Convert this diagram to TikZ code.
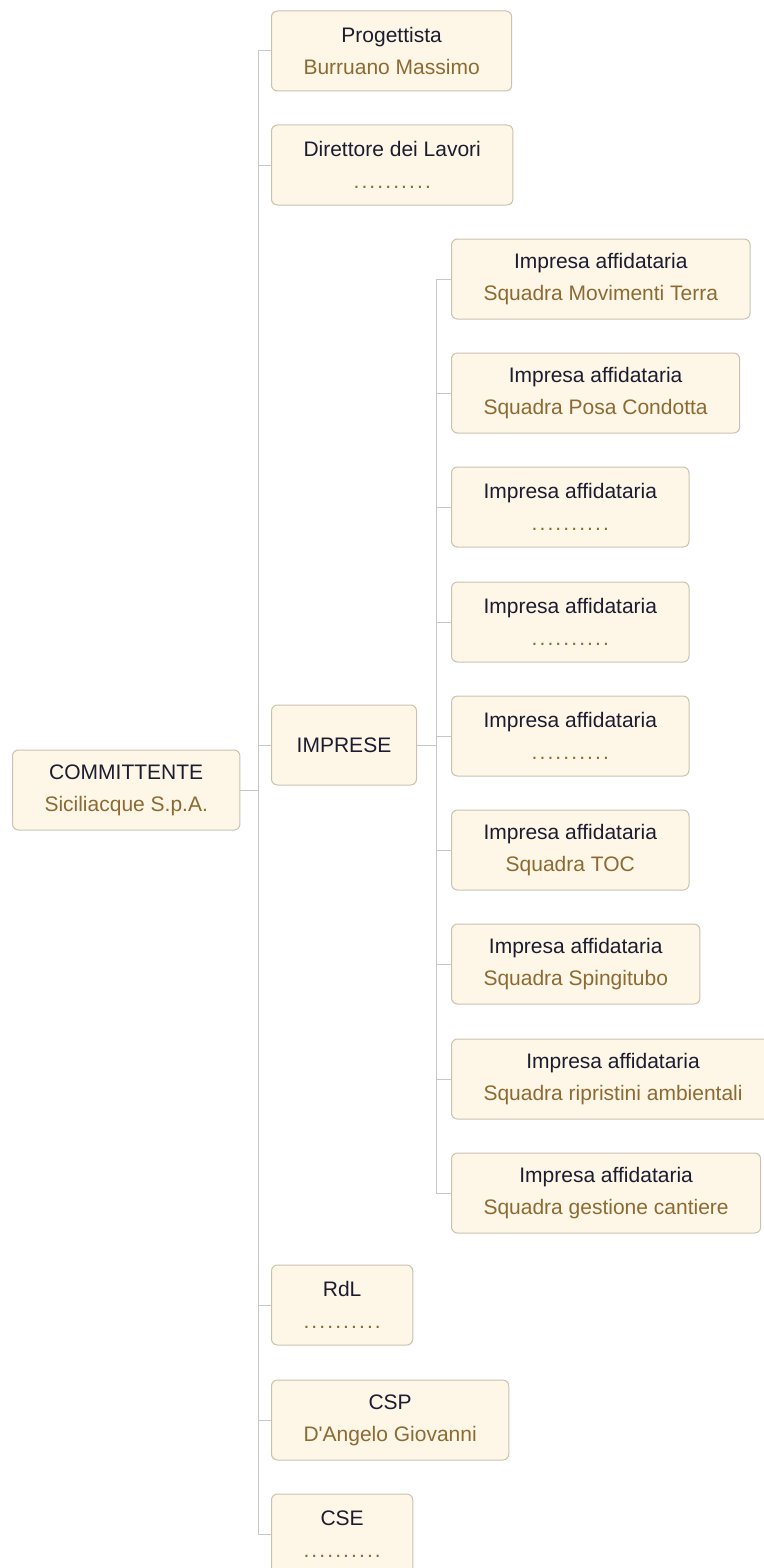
\documentclass[tikz,border=0pt]{standalone}
\usepackage{fontspec}
\setmainfont{Liberation Sans}
\usepackage{xcolor}
\usepackage{tikz}
\usetikzlibrary{positioning}

\definecolor{boxfill}{HTML}{FEF7E7}
\definecolor{boxline}{HTML}{C9C2B4}
\definecolor{titlecol}{HTML}{1C1C30}
\definecolor{subcol}{HTML}{8C6A32}
\definecolor{wirecol}{HTML}{C6C6C6}

\newcommand{\voce}[2]{\textcolor{titlecol}{#1}\\\textcolor{subcol}{#2}}
\newcommand{\pt}{.\kern1.05pt}
\newcommand{\puntini}{\pt\pt\pt\pt\pt\pt\pt\pt\pt.}

\begin{document}
\begin{tikzpicture}[x=0.5pt, y=-0.5pt,
        orgbox/.style={draw=boxline, fill=boxfill, rounded corners=3pt, line width=0.5pt,
            anchor=west, align=center, font=\fontsize{10.5}{16}\selectfont,
            inner xsep=16pt, minimum width=70pt, minimum height=40pt},
        wire/.style={draw=wirecol, line width=0.5pt}]
        \useasboundingbox (0,0) rectangle (764,1568);

        % radice
        \begin{scope}
            \node[orgbox] (comm) at (12,790) {\voce{COMMITTENTE}{Siciliacque S.p.A.}};
            \coordinate (trunk) at (258,790);
        \end{scope}

        % primo livello
        \begin{scope}
            \node[orgbox] (prog) at (271,51) {\voce{Progettista}{Burruano Massimo}};
            \node[orgbox] (dl) at (271,165) {\voce{Direttore dei Lavori}{\puntini}};
            \node[orgbox, inner xsep=0pt, minimum width=72.5pt] (imprese) at (271,745) {\textcolor{titlecol}{IMPRESE}};
            \node[orgbox] (rdl) at (271,1305) {\voce{RdL}{\puntini}};
            \node[orgbox] (csp) at (271,1420) {\voce{CSP}{D\textquotesingle Angelo Giovanni}};
            \node[orgbox] (cse) at (271,1534) {\voce{CSE}{\puntini}};
        \end{scope}

        % imprese affidatarie
        \begin{scope}
            \node[orgbox] (imp1) at (451,279) {\voce{Impresa affidataria}{Squadra Movimenti Terra}};
            \node[orgbox] (imp2) at (451,393) {\voce{Impresa affidataria}{Squadra Posa Condotta}};
            \node[orgbox] (imp3) at (451,507) {\voce{Impresa affidataria}{\puntini}};
            \node[orgbox] (imp4) at (451,622) {\voce{Impresa affidataria}{\puntini}};
            \node[orgbox] (imp5) at (451,736) {\voce{Impresa affidataria}{\puntini}};
            \node[orgbox] (imp6) at (451,850) {\voce{Impresa affidataria}{Squadra TOC}};
            \node[orgbox] (imp7) at (451,964) {\voce{Impresa affidataria}{Squadra Spingitubo}};
            \node[orgbox] (imp8) at (451,1079) {\voce{Impresa affidataria}{Squadra ripristini ambientali}};
            \node[orgbox] (imp9) at (451,1193) {\voce{Impresa affidataria}{Squadra gestione cantiere}};
            \coordinate (subtrunk) at (436,745);
        \end{scope}

        % collegamenti
        \draw[wire] (comm.east) -- (trunk);
        \foreach \n in {prog, dl, imprese, rdl, csp, cse}
            \draw[wire] (trunk) |- (\n.west);
        \draw[wire] (imprese.east) -- (subtrunk);
        \foreach \n in {imp1, imp2, imp3, imp4, imp5, imp6, imp7, imp8, imp9}
            \draw[wire] (subtrunk) |- (\n.west);
    \end{tikzpicture}
\end{document}
